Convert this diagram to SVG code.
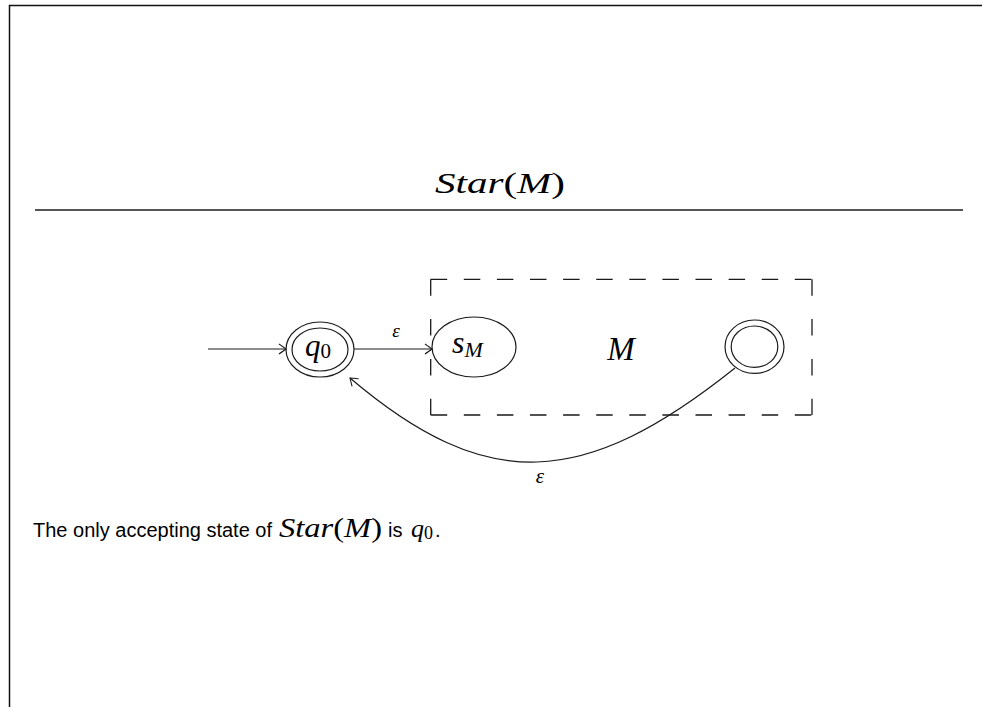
<svg xmlns="http://www.w3.org/2000/svg" width="982" height="707" viewBox="0 0 982 707">
<style>
.math{font-family:"Liberation Serif","DejaVu Serif",serif;font-style:italic;fill:#000}
.up{font-style:normal}
.sans{font-family:"Liberation Sans",Arial,sans-serif;fill:#000}
.st{fill:none;stroke:#1a1a1a;stroke-width:1.2}
.edge{fill:none;stroke:#1a1a1a;stroke-width:1.2}
.dash{fill:none;stroke:#1a1a1a;stroke-width:1.3}
</style>
<defs>
<marker id="to" viewBox="-10 -6 12 12" markerWidth="12" markerHeight="12" refX="0" refY="0" orient="auto" markerUnits="userSpaceOnUse">
<path d="M -7 -5 Q -2 -1.5 0 0 Q -2 1.5 -7 5" fill="none" stroke="#1a1a1a" stroke-width="1.1"/>
</marker>
</defs>
<rect width="982" height="707" fill="#fff"/>
<path d="M 9.5 707 V 5.5 H 982" fill="none" stroke="#111" stroke-width="1.5"/>
<text class="math" x="435" y="193" font-size="29" textLength="130" lengthAdjust="spacingAndGlyphs">Star<tspan class="up">(</tspan>M<tspan class="up">)</tspan></text>
<line x1="35" y1="210" x2="963" y2="210" stroke="#555" stroke-width="2.2"/>

<g id="box">
<line class="dash" x1="430.7" y1="279.3" x2="812" y2="279.3" stroke-dasharray="16.5 16.6"/>
<line class="dash" x1="430.7" y1="415" x2="812" y2="415" stroke-dasharray="16.5 16.6"/>
<line class="dash" x1="430.7" y1="279.3" x2="430.7" y2="415" stroke-dasharray="16.5 23.3"/>
<line class="dash" x1="812" y1="279.3" x2="812" y2="415" stroke-dasharray="16.5 23.3"/>
<text class="math" x="621" y="360" font-size="33" text-anchor="middle">M</text>
</g>

<g id="q0">
<ellipse class="st" cx="320" cy="349.5" rx="34" ry="27.5"/>
<ellipse class="st" cx="320" cy="349.5" rx="28" ry="21.5"/>
<text class="math" x="305" y="356" font-size="31">q<tspan class="up" font-size="21" dy="2">0</tspan></text>
</g>

<g id="sM">
<ellipse class="st" cx="474" cy="347" rx="42" ry="30"/>
<text class="math" x="452" y="353" font-size="32">s<tspan font-size="22" dy="4">M</tspan></text>
</g>

<g id="accept">
<ellipse class="st" cx="754.5" cy="346.7" rx="29.5" ry="26.7"/>
<ellipse class="st" cx="754.5" cy="346.7" rx="23.3" ry="20.7"/>
</g>

<g id="edges">
<line class="edge" x1="208" y1="349" x2="286" y2="349" marker-end="url(#to)"/>
<line class="edge" x1="354" y1="349" x2="432" y2="349" marker-end="url(#to)"/>
<text class="math" x="396" y="337" font-size="19" text-anchor="middle">ε</text>
<path class="edge" d="M 735 368 C 583.6 489.1 486.7 494.2 350 378" marker-end="url(#to)"/>
<text class="math" x="540" y="483" font-size="21" text-anchor="middle">ε</text>
</g>

<text class="sans" x="33" y="537" font-size="20">The only accepting state of</text>
<text class="math" x="279" y="537" font-size="28" textLength="103" lengthAdjust="spacingAndGlyphs">Star<tspan class="up">(</tspan>M<tspan class="up">)</tspan></text>
<text class="sans" x="388" y="537" font-size="20">is</text>
<text class="math" x="411" y="537" font-size="26">q<tspan class="up" font-size="18" dy="2">0</tspan></text>
<text class="sans" x="435" y="537" font-size="20">.</text>
</svg>
